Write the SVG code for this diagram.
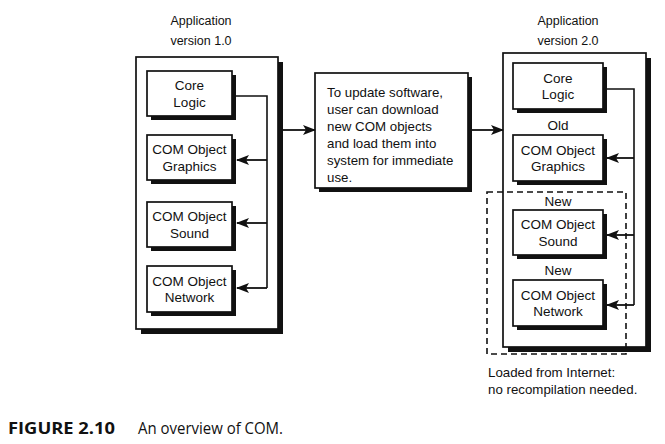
<svg xmlns="http://www.w3.org/2000/svg" width="665" height="444" viewBox="0 0 665 444">
<style>
  .box{fill:#fff;stroke:#111;stroke-width:1.7}
  .sh{fill:#111}
  .t{font-family:"Liberation Sans",Arial,sans-serif;font-size:13.5px;fill:#111;text-anchor:middle}
  .ti{font-family:"Liberation Sans",Arial,sans-serif;font-size:12.5px;fill:#111;text-anchor:middle}
  .m{font-family:"Liberation Sans",Arial,sans-serif;font-size:13.3px;fill:#111}
  .c{fill:none;stroke:#111;stroke-width:1.6}
  .a{fill:none;stroke:#111;stroke-width:1.8;marker-end:url(#ah)}
  .d{fill:none;stroke:#111;stroke-width:1.6;stroke-dasharray:6 4}
</style>
<defs>
  <marker id="ah" markerWidth="13" markerHeight="10" refX="12" refY="5" orient="auto" markerUnits="userSpaceOnUse">
    <path d="M0,0 L13,5 L0,10 L3,5 z" fill="#111"/>
  </marker>
</defs>
<rect width="665" height="444" fill="#fff"/>

<g id="app1">
  <text class="ti" x="201" y="25">Application</text>
  <text class="ti" x="201" y="45">version 1.0</text>
  <rect class="sh" x="141" y="62" width="142" height="272"/>
  <rect class="box" x="136" y="57" width="142" height="272"/>
</g>
<g id="app2">
  <text class="ti" x="568" y="25">Application</text>
  <text class="ti" x="568" y="45">version 2.0</text>
  <rect class="sh" x="508" y="58" width="143" height="294"/>
  <rect class="box" x="503" y="53" width="143" height="294"/>
</g>

<g id="core1">
  <rect class="sh" x="151" y="75" width="85" height="45"/>
  <rect class="box" x="147" y="71" width="85" height="45"/>
  <text class="t" x="189.5" y="90">Core</text>
  <text class="t" x="189.5" y="107">Logic</text>
</g>
<g id="graphics1">
  <rect class="sh" x="151" y="139" width="85" height="45"/>
  <rect class="box" x="147" y="135" width="85" height="45"/>
  <text class="t" x="189.5" y="154">COM Object</text>
  <text class="t" x="189.5" y="171">Graphics</text>
</g>
<g id="sound1">
  <rect class="sh" x="151" y="206" width="85" height="45"/>
  <rect class="box" x="147" y="202" width="85" height="45"/>
  <text class="t" x="189.5" y="221">COM Object</text>
  <text class="t" x="189.5" y="238">Sound</text>
</g>
<g id="network1">
  <rect class="sh" x="151" y="270" width="85" height="46"/>
  <rect class="box" x="147" y="266" width="85" height="46"/>
  <text class="t" x="189.5" y="285.5">COM Object</text>
  <text class="t" x="189.5" y="302">Network</text>
</g>

<g id="update">
  <rect class="sh" x="319" y="77" width="153" height="115"/>
  <rect class="box" x="315" y="73" width="153" height="115"/>
  <text class="m" x="327" y="97">To update software,</text>
  <text class="m" x="327" y="114">user can download</text>
  <text class="m" x="327" y="131">new COM objects</text>
  <text class="m" x="327" y="148">and load them into</text>
  <text class="m" x="327" y="165">system for immediate</text>
  <text class="m" x="327" y="182">use.</text>
</g>

<g id="core2">
  <rect class="sh" x="517" y="67" width="90" height="46"/>
  <rect class="box" x="513" y="63" width="90" height="46"/>
  <text class="t" x="558" y="82.5">Core</text>
  <text class="t" x="558" y="99">Logic</text>
</g>
<g id="graphics2">
  <text class="t" x="558" y="130">Old</text>
  <rect class="sh" x="517" y="139" width="90" height="46"/>
  <rect class="box" x="513" y="135" width="90" height="46"/>
  <text class="t" x="558" y="154.5">COM Object</text>
  <text class="t" x="558" y="171">Graphics</text>
</g>
<g id="sound2">
  <text class="t" x="558" y="206">New</text>
  <rect class="sh" x="517" y="214" width="90" height="45"/>
  <rect class="box" x="513" y="210" width="90" height="45"/>
  <text class="t" x="558" y="229">COM Object</text>
  <text class="t" x="558" y="245.5">Sound</text>
</g>
<g id="network2">
  <text class="t" x="558" y="275">New</text>
  <rect class="sh" x="517" y="284" width="90" height="46"/>
  <rect class="box" x="513" y="280" width="90" height="46"/>
  <text class="t" x="558" y="299.5">COM Object</text>
  <text class="t" x="558" y="316">Network</text>
</g>

<g id="internet">
  <rect class="d" x="487" y="192" width="139" height="162"/>
  <text class="m" x="488" y="377" font-size="13.5">Loaded from Internet:</text>
  <text class="m" x="488" y="394" font-size="13.5">no recompilation needed.</text>
</g>

<g id="connectors">
  <path class="c" d="M236,96 H267 V288"/>
  <path class="a" d="M267,160 H237"/>
  <path class="a" d="M267,223 H237"/>
  <path class="a" d="M267,288 H237"/>
  <path class="a" d="M283,130 H315"/>
  <path class="a" d="M472,130 H503"/>
  <path class="c" d="M607,89 H634 V305"/>
  <path class="a" d="M634,158 H607"/>
  <path class="a" d="M634,235 H607"/>
  <path class="a" d="M634,305 H607"/>
</g>

<g id="caption">
  <text x="8" y="434" font-family="'Open Sans',sans-serif" font-weight="bold" font-size="16.5" fill="#111" textLength="107" lengthAdjust="spacingAndGlyphs">FIGURE 2.10</text>
  <text x="138" y="434" font-family="'Open Sans',sans-serif" font-size="16.5" fill="#111" textLength="145" lengthAdjust="spacingAndGlyphs">An overview of COM.</text>
</g>
</svg>
